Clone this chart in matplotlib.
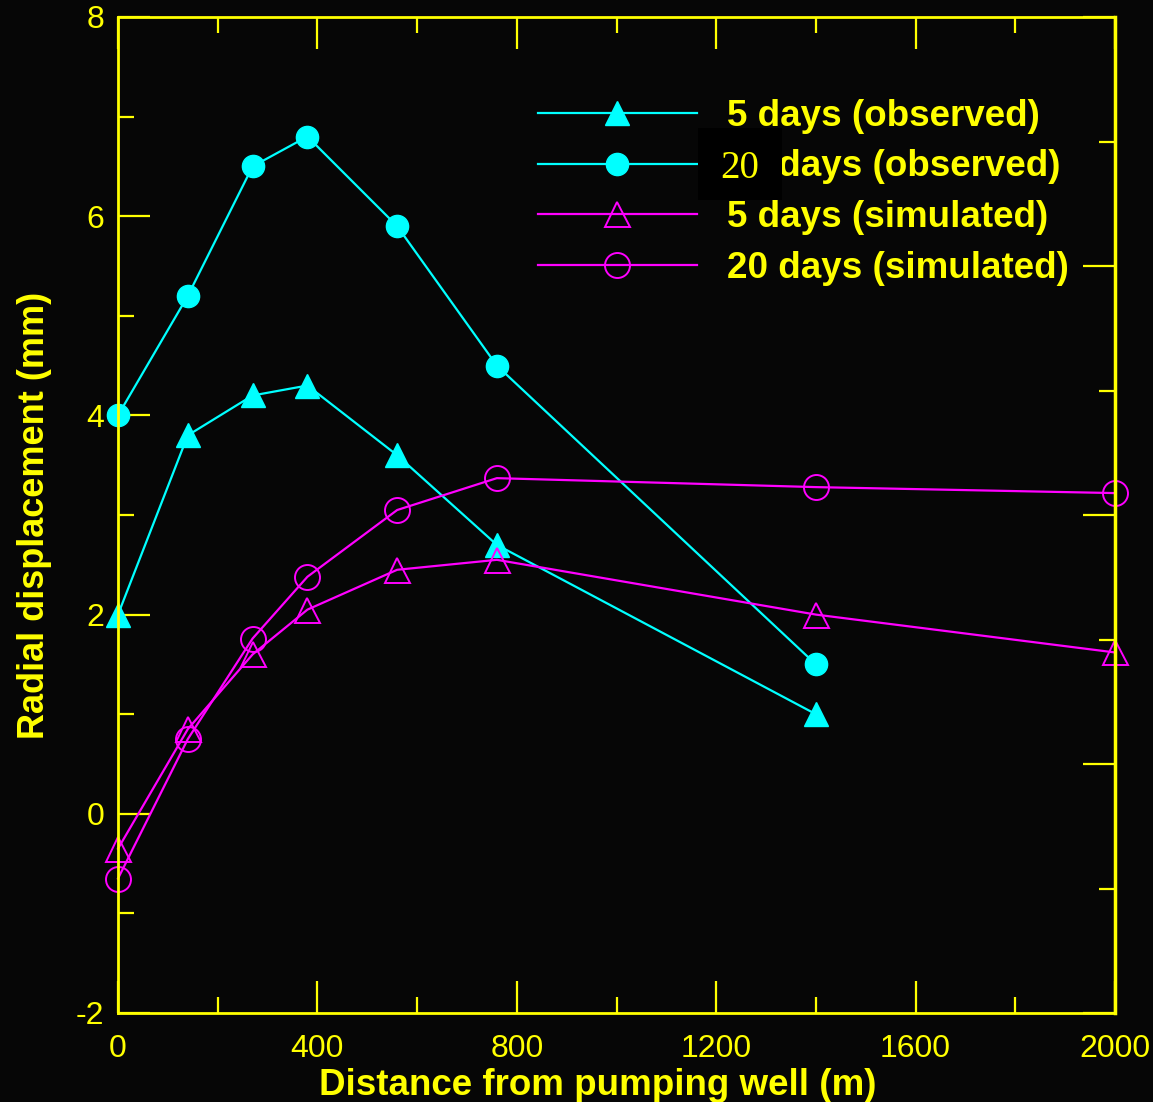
import numpy as np
import matplotlib
matplotlib.use('Agg')
import matplotlib.pyplot as plt
from matplotlib.patches import Rectangle
from matplotlib.ticker import MultipleLocator, NullFormatter

plt.rcParams['font.family'] = ['Liberation Sans', 'DejaVu Sans']
plt.rcParams['axes.unicode_minus'] = False

# distances (m)
dist_obs = [0, 140, 270, 380, 560, 760, 1400]
dist_sim = [0, 140, 270, 380, 560, 760, 1400, 2000]

# radial displacement (mm)
obs_5d = [2.0, 3.8, 4.2, 4.3, 3.6, 2.7, 1.0]
obs_20d = [4.0, 5.2, 6.5, 6.8, 5.9, 4.5, 1.5]
sim_5d = [-0.35, 0.85, 1.6, 2.05, 2.45, 2.55, 2.0, 1.62]
sim_20d = [-0.65, 0.75, 1.76, 2.38, 3.05, 3.37, 3.28, 3.22]

labels = ['5 days (observed)', '20 days (observed)', '5 days (simulated)', '20 days (simulated)']

bg = '#060606'
yel = '#ffff00'
cyan = '#00ffff'
mag = '#ff00ff'

W, H = 1153, 1102
fig = plt.figure(figsize=(W / 100, H / 100), dpi=100, facecolor=bg)
ax = fig.add_axes([118 / W, 1 - 1013 / H, 997 / W, 996 / H], facecolor=bg)

ax.plot(dist_obs, obs_5d, color=cyan, lw=1.6, marker='^', ms=17, mfc=cyan, mec=cyan, clip_on=False, label=labels[0])
ax.plot(dist_obs, obs_20d, color=cyan, lw=1.6, marker='o', ms=16, mfc=cyan, mec=cyan, clip_on=False, label=labels[1])
ax.plot(dist_sim, sim_5d, color=mag, lw=1.6, marker='^', ms=18, mfc='none', mec=mag, mew=1.4, clip_on=False, label=labels[2])
ax.plot(dist_sim, sim_20d, color=mag, lw=1.6, marker='o', ms=18, mfc='none', mec=mag, mew=1.4, clip_on=False, label=labels[3])

ax.set_xlim(0, 2000)
ax.set_ylim(-2, 8)

for s in ax.spines.values():
    s.set_color(yel)
    s.set_linewidth(2)

ax.xaxis.set_major_locator(MultipleLocator(400))
ax.xaxis.set_minor_locator(MultipleLocator(200))
ax.yaxis.set_major_locator(MultipleLocator(2))
ax.yaxis.set_minor_locator(MultipleLocator(1))
ax.tick_params(axis='both', which='major', direction='in', length=23, width=1.6, color=yel,
               labelcolor=yel, labelsize=23, top=True, right=False)
ax.tick_params(axis='both', which='minor', direction='in', length=11.5, width=1.6, color=yel,
               top=True, right=False)
ax.tick_params(axis='x', which='major', pad=15)
ax.tick_params(axis='y', which='major', pad=10)

# right axis has its own ticks, no labels
ax2 = ax.twinx()
ax2.set_ylim(0, 8)
ax2.yaxis.set_major_locator(MultipleLocator(2))
ax2.yaxis.set_minor_locator(MultipleLocator(1))
ax2.yaxis.set_major_formatter(NullFormatter())
ax2.tick_params(axis='y', which='major', direction='in', length=23, width=1.6, color=yel)
ax2.tick_params(axis='y', which='minor', direction='in', length=11.5, width=1.6, color=yel)
for s in ax2.spines.values():
    s.set_visible(False)
ax2.spines['right'].set_visible(True)
ax2.spines['right'].set_color(yel)
ax2.spines['right'].set_linewidth(2.5)

ax.set_xlabel('Distance from pumping well (m)', color=yel, fontsize=26.5, fontweight='bold', labelpad=3)
ax.xaxis.label.set_x(0.481)
ax.set_ylabel('Radial displacement (mm)', color=yel, fontsize=26, fontweight='bold', labelpad=17)

leg = ax.legend(loc='upper left', bbox_to_anchor=(0.421, 0.918), frameon=False, fontsize=26.5,
                handlelength=4.32, handletextpad=0.82, labelspacing=0.43, borderpad=0, borderaxespad=0)
for t in leg.get_texts():
    t.set_color(yel)
    t.set_fontweight('bold')

# patch over the "20" in the legend, as in the original
fig.add_artist(Rectangle((698 / W, 1 - 200 / H), 84 / W, 72 / H, transform=fig.transFigure,
                         facecolor='black', edgecolor='none', zorder=10))
fig.text(740 / W, 1 - 168 / H, '20', family=['Liberation Serif', 'DejaVu Serif'], fontsize=28,
         color=yel, ha='center', va='center', zorder=11)

fig.savefig('out.png', dpi=100, facecolor=bg)
